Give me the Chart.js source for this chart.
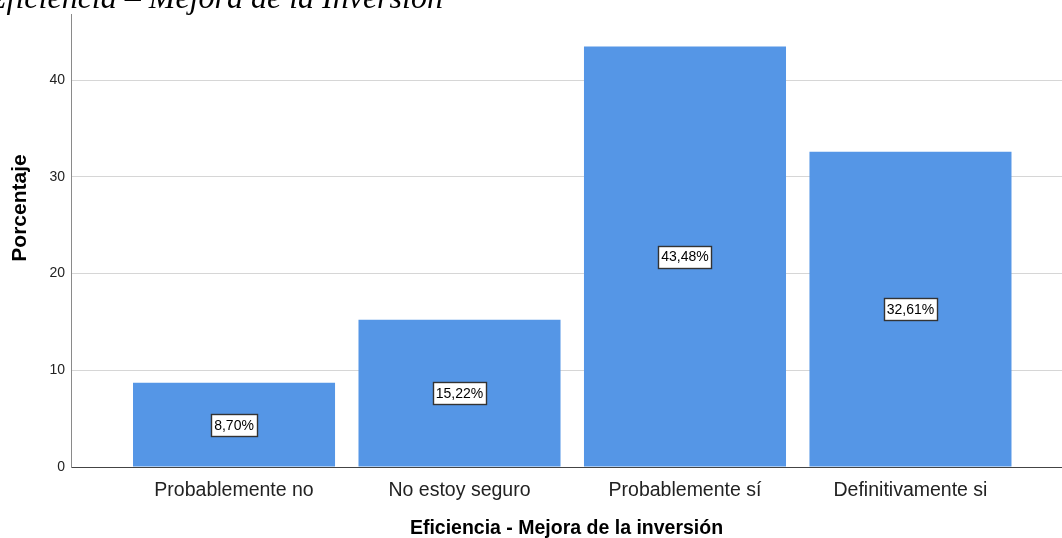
<!DOCTYPE html>
<html>
<head>
<meta charset="utf-8">
<script src="https://cdn.jsdelivr.net/npm/chart.js@4"></script>
<style>
  html, body { margin: 0; padding: 0; background: #fff; overflow: hidden; }
  #wrap { position: relative; width: 1062px; height: 538px; }
  #heading {
    position: absolute; left: -13px; top: -21px; white-space: nowrap;
    font-family: "Liberation Serif", "Times New Roman", serif;
    font-style: italic; font-size: 32px; color: #000; z-index: 2;
  }
</style>
</head>
<body>
<div id="wrap">
  <div id="heading">Eficiencia – Mejora de la Inversión</div>
  <canvas id="chart" width="1062" height="538"></canvas>
</div>
<script>
const categories = ['Probablemente no', 'No estoy seguro', 'Probablemente sí', 'Definitivamente si'];
const porcentajes = [8.70, 15.22, 43.48, 32.61];
const yTicks = [0, 10, 20, 30, 40];
const xTitle = 'Eficiencia - Mejora de la inversión';
const yTitle = 'Porcentaje';

// white boxes with the percentage in the middle of each bar
const barLabels = {
  id: 'barLabels',
  afterDatasetsDraw(chart) {
    const ctx = chart.ctx;
    const meta = chart.getDatasetMeta(0);
    ctx.save();
    ctx.font = '14px "Liberation Sans", Arial, sans-serif';
    ctx.textAlign = 'center';
    ctx.textBaseline = 'middle';
    meta.data.forEach((bar, i) => {
      const txt = porcentajes[i].toFixed(2).replace('.', ',') + '%';
      const cy = (bar.y + bar.base) / 2;
      const w = Math.round(ctx.measureText(txt).width + 6);
      const h = 22;
      const x0 = Math.round(bar.x - w / 2) + 0.5;
      const y0 = Math.round(cy - h / 2) + 0.5;
      ctx.fillStyle = '#fff';
      ctx.fillRect(x0, y0, w, h);
      ctx.strokeStyle = '#333';
      ctx.lineWidth = 1.4;
      ctx.strokeRect(x0, y0, w, h);
      ctx.fillStyle = '#000';
      ctx.fillText(txt, bar.x, cy + 1);
    });
    ctx.restore();
  }
};

// y axis title sits above the middle of the axis in the original
const yAxisTitle = {
  id: 'yAxisTitle',
  afterDraw(chart) {
    const ctx = chart.ctx;
    ctx.save();
    ctx.translate(20, 208);
    ctx.rotate(-Math.PI / 2);
    ctx.font = 'bold 21px "Liberation Sans", Arial, sans-serif';
    ctx.fillStyle = '#000';
    ctx.textAlign = 'center';
    ctx.textBaseline = 'middle';
    ctx.fillText(yTitle, 0, 0);
    ctx.restore();
  }
};

const ctx = document.getElementById('chart');
const chart = new Chart(ctx, {
  type: 'bar',
  data: {
    datasets: [{
      data: porcentajes.map((v, i) => ({ x: i, y: v })),
      backgroundColor: '#5596e6',
      borderWidth: 0,
      barPercentage: 0.896,
      categoryPercentage: 1
    }]
  },
  options: {
    responsive: false,
    animation: false,
    layout: { padding: { top: 12, right: 0, left: 0, bottom: 0 } },
    plugins: { legend: { display: false }, tooltip: { enabled: false } },
    scales: {
      x: {
        type: 'linear',
        offset: false,
        min: -0.723,
        max: 3.672,
        afterBuildTicks: (scale) => { scale.ticks = categories.map((c, i) => ({ value: i })); },
        afterFit: (scale) => { scale.height = 71; },
        grid: { display: false, drawTicks: false },
        border: { display: true, color: '#444', width: 1 },
        ticks: {
          autoSkip: false,
          maxRotation: 0,
          padding: 12,
          color: '#222',
          font: { family: '"Liberation Sans", Arial, sans-serif', size: 19.5 },
          callback: (v) => categories[v]
        },
        title: {
          display: true,
          text: xTitle,
          color: '#000',
          padding: { top: 0, bottom: -2 },
          font: { family: '"Liberation Sans", Arial, sans-serif', size: 19.5, weight: 'bold' }
        }
      },
      y: {
        min: 0,
        max: 46.8,
        afterBuildTicks: (scale) => { scale.ticks = yTicks.map(v => ({ value: v })); },
        afterFit: (scale) => { scale.width = 71; },
        grid: { color: '#d6d6d6', drawTicks: false },
        border: { display: true, color: '#8a8a8a', width: 1 },
        ticks: {
          padding: 6,
          color: '#222',
          font: { family: '"Liberation Sans", Arial, sans-serif', size: 14 }
        },
        title: { display: false }
      }
    }
  },
  plugins: [barLabels, yAxisTitle]
});
</script>
</body>
</html>
